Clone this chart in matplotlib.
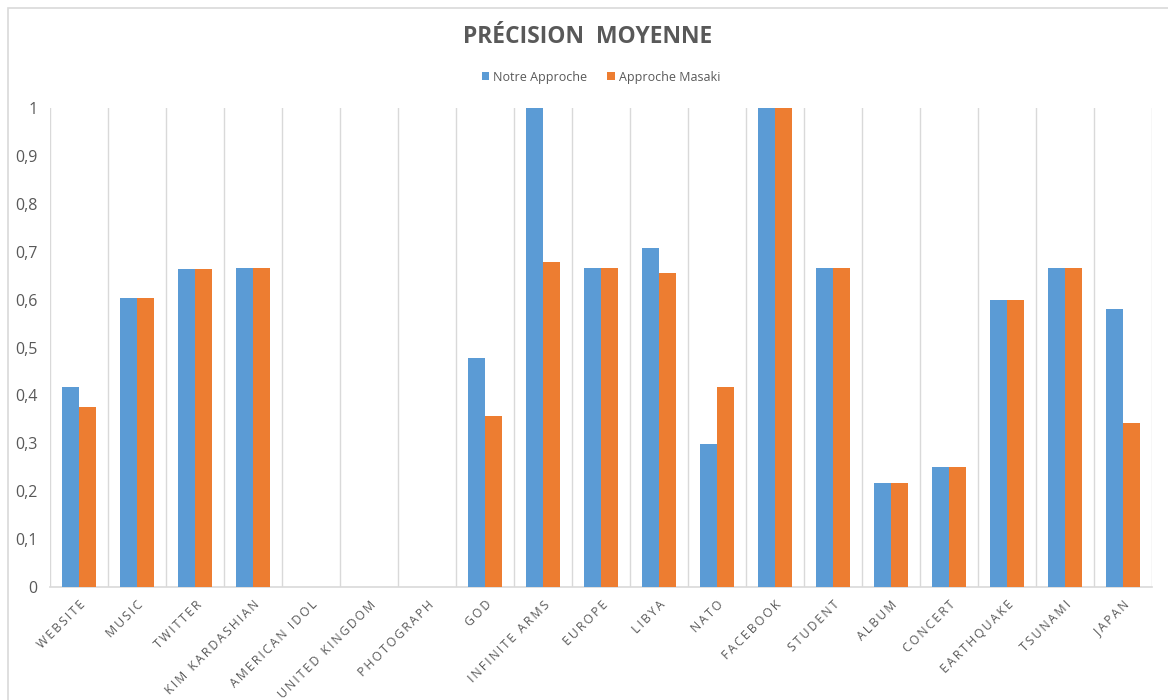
import matplotlib
matplotlib.use("Agg")
import matplotlib.pyplot as plt
import numpy as np
from matplotlib.patches import Rectangle

categories = ["WEBSITE", "MUSIC", "TWITTER", "KIM KARDASHIAN", "AMERICAN IDOL",
              "UNITED KINGDOM", "PHOTOGRAPH", "GOD", "INFINITE ARMS", "EUROPE",
              "LIBYA", "NATO", "FACEBOOK", "STUDENT", "ALBUM", "CONCERT",
              "EARTHQUAKE", "TSUNAMI", "JAPAN"]
notre_approche = [0.417, 0.604, 0.663, 0.667, 0, 0, 0, 0.479, 1.0, 0.667,
                  0.707, 0.298, 1.0, 0.667, 0.217, 0.25, 0.6, 0.667, 0.581]
approche_masaki = [0.375, 0.604, 0.663, 0.667, 0, 0, 0, 0.358, 0.679, 0.667,
                   0.655, 0.417, 1.0, 0.667, 0.217, 0.25, 0.6, 0.667, 0.342]
series_names = ["Notre Approche", "Approche Masaki"]
y_ticks = [0, 0.1, 0.2, 0.3, 0.4, 0.5, 0.6, 0.7, 0.8, 0.9, 1.0]

BLUE = "#5b9bd5"
ORANGE = "#ed7d31"
TEXT = "#595959"
GRID = "#d9d9d9"

plt.rcParams["font.family"] = ["Open Sans", "DejaVu Sans"]

fig = plt.figure(figsize=(11.68, 7.0), dpi=100)
fig.patch.set_facecolor("white")

# chart-area border
fig.add_artist(Rectangle((8 / 1168, -0.01), 1.02, 1 - 8 / 700 + 0.01,
                         transform=fig.transFigure, fill=False,
                         edgecolor=GRID, linewidth=1.2))

ax = fig.add_axes([50 / 1168, 113 / 700, 1102 / 1168, 479 / 700])
n = len(categories)
x = np.arange(n)
w = 0.29
ax.bar(x - w / 2, notre_approche, width=w, color=BLUE, label=series_names[0], zorder=3)
ax.bar(x + w / 2, approche_masaki, width=w, color=ORANGE, label=series_names[1], zorder=3)

ax.set_xlim(-0.5, n - 0.5)
ax.set_ylim(0, 1)

# vertical gridlines at category boundaries
for b in np.arange(-0.5, n, 1.0):
    ax.axvline(b, color=GRID, linewidth=1, zorder=1)

for s in ["top", "right", "left"]:
    ax.spines[s].set_visible(False)
ax.spines["bottom"].set_color(GRID)
ax.spines["bottom"].set_linewidth(1.2)

ax.set_yticks(y_ticks)
ax.set_yticklabels([("%g" % t).replace(".", ",") for t in y_ticks],
                   color=TEXT, fontsize=11.5)
ax.tick_params(axis="y", length=0, pad=9)

spaced = ["\u2009".join(list(c)) for c in categories]
ax.set_xticks(x)
ax.set_xticklabels(spaced, rotation=45, ha="right", rotation_mode="anchor",
                   color=TEXT, fontsize=8.8)
ax.tick_params(axis="x", length=0, pad=8)

fig.text(588 / 1168, 1 - 37 / 700, "PRÉCISION  MOYENNE",
         ha="center", va="center", fontsize=16.5, fontweight="bold", color=TEXT)

ax.legend(loc="center", bbox_to_anchor=(0.5, (700 - 77 - 113) / 479),
          ncol=2, frameon=False, fontsize=9, handlelength=0.6, handleheight=0.6,
          columnspacing=1.6, handletextpad=0.3, labelcolor=TEXT)

fig.savefig("out.png", dpi=100, facecolor="white")
